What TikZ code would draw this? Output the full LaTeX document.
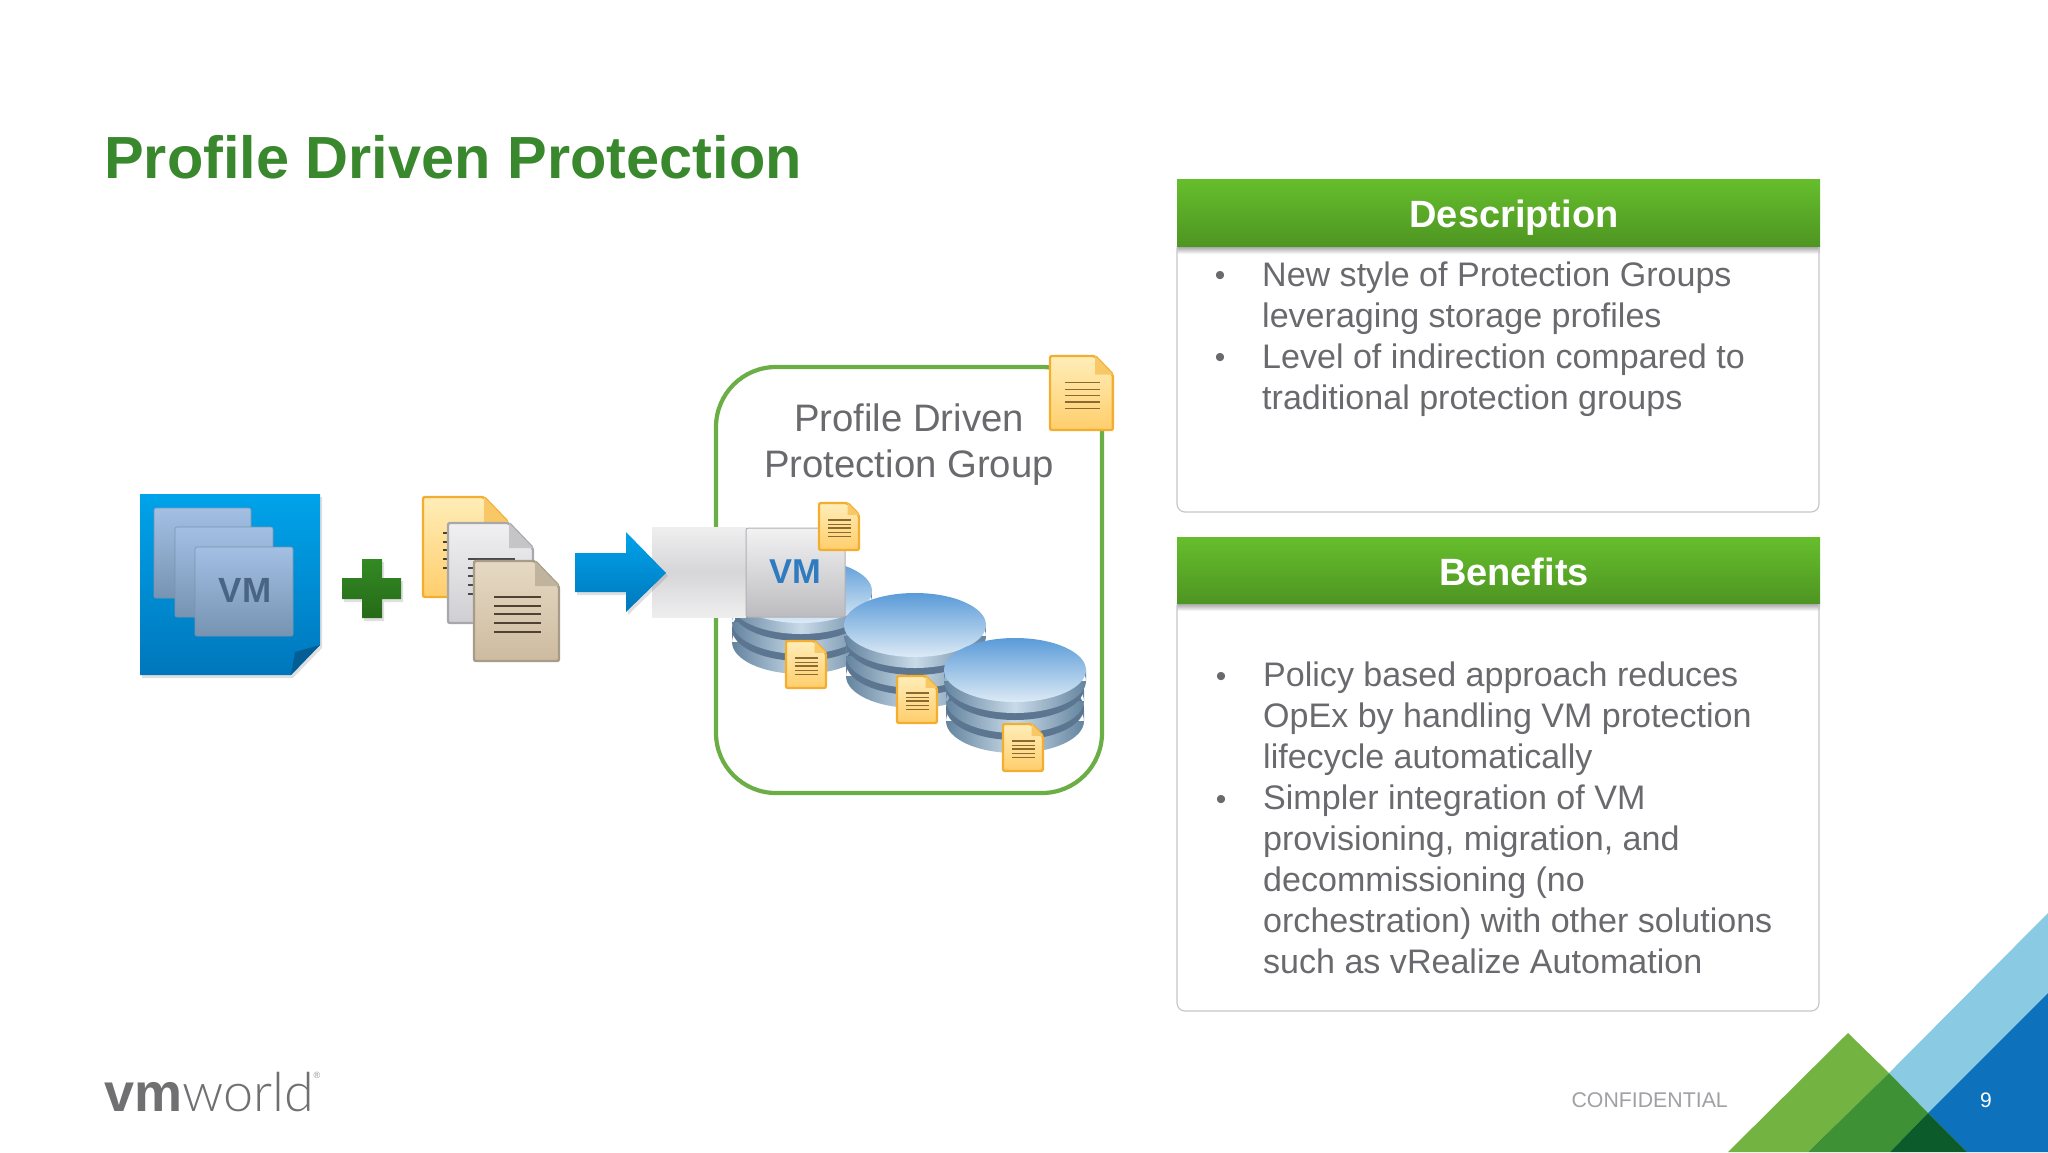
\documentclass[tikz,border=0pt]{standalone}
\usepackage{fontspec}
\setmainfont{Liberation Sans}
\newfontfamily\logolight{Lato Light}
\usetikzlibrary{shadows}

\definecolor{titlegreen}{HTML}{3A882D}
\definecolor{textgray}{HTML}{6A6A6E}
\definecolor{boxline}{HTML}{C6C6CC}
\definecolor{groupgreen}{HTML}{6BAE45}
\definecolor{headtop}{HTML}{66BE2C}
\definecolor{headbot}{HTML}{4E9522}
\definecolor{triLightGreen}{HTML}{72B341}
\definecolor{triMidGreen}{HTML}{3F9136}
\definecolor{triDarkGreen}{HTML}{0B5C2A}
\definecolor{triBlue}{HTML}{0D72BB}
\definecolor{triLightBlue}{HTML}{8ACBE3}
\definecolor{diskedge}{HTML}{64849F}
\definecolor{diskmid}{HTML}{C8DAE8}
\definecolor{diskgap}{HTML}{5C7590}
\definecolor{cardtop}{HTML}{A2C0E4}
\definecolor{cardbot}{HTML}{7793B2}
\definecolor{cardline}{HTML}{7C93AE}
\definecolor{facetop}{HTML}{5A9BD8}
\definecolor{facebot}{HTML}{DCEAF5}
\definecolor{noteTop}{HTML}{FFEDB8}
\definecolor{noteBot}{HTML}{FFCE6C}
\definecolor{noteEdge}{HTML}{F3AE2F}
\definecolor{noteLine}{HTML}{8A6A30}
\definecolor{noteDark}{HTML}{4A4030}
\definecolor{greyTop}{HTML}{F0F0F2}
\definecolor{greyBot}{HTML}{CFCFD3}
\definecolor{greyEdge}{HTML}{A8A8AC}
\definecolor{greyLine}{HTML}{4A4A4A}
\definecolor{tanTop}{HTML}{E6D9C3}
\definecolor{tanBot}{HTML}{CDBBA0}
\definecolor{tanEdge}{HTML}{A89B87}
\definecolor{tanLine}{HTML}{4F4232}
\definecolor{skyTop}{HTML}{00A3EA}
\definecolor{skyBot}{HTML}{0077BC}
\definecolor{foldblue}{HTML}{045E96}
\definecolor{vmdark}{HTML}{4A6485}
\definecolor{vmblue}{HTML}{2E7BBF}
\definecolor{plusTop}{HTML}{338A24}
\definecolor{plusBot}{HTML}{266A18}
\definecolor{bandTop}{HTML}{EFEFF0}
\definecolor{bandMid}{HTML}{D6D6D8}
\definecolor{bandBot}{HTML}{EEEEEF}
\definecolor{vmcardTop}{HTML}{F2F2F3}
\definecolor{vmcardBot}{HTML}{BCBCC0}
\definecolor{vmcardLine}{HTML}{B0B0B4}
\definecolor{logogray}{HTML}{707073}
\definecolor{reggray}{HTML}{909093}
\definecolor{confgray}{HTML}{A0A0A5}

\tikzset{
  bodytext/.style={anchor=base west, inner sep=0pt, text=textgray, font=\fontsize{34.05}{41}\selectfont},
  grouptext/.style={anchor=base, inner sep=0pt, text=textgray, font=\fontsize{38.3}{46}\selectfont},
  bullet/.style={anchor=base, inner sep=0pt, text=textgray, font=\fontsize{30}{36}\selectfont},
  headtext/.style={anchor=base, inner sep=0pt, text=white, font=\bfseries\fontsize{38}{46}\selectfont},
  headbar/.style={top color=headtop, bottom color=headbot},
  headshade/.style={top color=black!38, bottom color=white},
  softshadow/.style={drop shadow={shadow xshift=2pt, shadow yshift=-3pt, opacity=.25, fill=gray}},
  vmcard/.style={draw=cardline, line width=.6pt, rounded corners=2pt, top color=cardtop, bottom color=cardbot},
  pics/paperdoc/.style n args={4}{code={
    \draw[line width=2.4pt, rounded corners=2pt, draw=#3, top color=#1, bottom color=#2]
      (0,0) -- (61,0) -- (85,25) -- (85,100) -- (0,100) -- cycle;
    \fill[#3!60!#1] (61,0) -- (85,25) -- (61,25) -- cycle;
    \foreach \ly in {36,45,53,62,71}
      \draw[line width=1.3pt, draw=#4] (20,\ly) -- (67,\ly);
  }},
  pics/diskstack/.style={code={
    \foreach \o in {40,20}{
      \path[left color=diskedge, right color=diskedge, middle color=diskmid]
        (-69,\o) rectangle (69,\o+11) (0,\o+11) ellipse [x radius=69, y radius=32];
      \fill[diskgap] (0,\o-2) ellipse [x radius=69, y radius=32];
    }
    \path[left color=diskedge, right color=diskedge, middle color=diskmid]
      (-71,0) rectangle (71,11) (0,11) ellipse [x radius=71, y radius=32];
    \path[top color=facetop, bottom color=facebot] (0,0) ellipse [x radius=71, y radius=32];
  }}
}

\begin{document}
\begin{tikzpicture}[x=1pt, y=-1pt]
\useasboundingbox (0,0) rectangle (2048,1152);

\node[anchor=base west, inner sep=0pt, text=titlegreen, font=\bfseries\fontsize{59.5}{70}\selectfont] (title) at (104,178) {Profile Driven Protection};

% description panel
\path[headshade] (1177,246) rectangle (1820,254);
\draw[boxline, line width=1.2pt, rounded corners=8pt] (1177,240) rectangle (1819,512);
\path[headbar] (1177,179) rectangle (1820,246);
\node[headtext] (deschead) at (1514,227) {Description};

\node[bullet] (db1) at (1220,285) {•};
\node[bodytext] (d1) at (1262,286) {New style of Protection Groups};
\node[bodytext] (d2) at (1262,327) {leveraging storage profiles};
\node[bullet] (db2) at (1220,367) {•};
\node[bodytext] (d3) at (1262,368) {Level of indirection compared to};
\node[bodytext] (d4) at (1262,409) {traditional protection groups};

% benefits panel
\path[headshade] (1177,603) rectangle (1820,611);
\draw[boxline, line width=1.2pt, rounded corners=8pt] (1177,597) rectangle (1819,1011);
\path[headbar] (1177,537) rectangle (1820,603);
\node[headtext] (benhead) at (1514,585) {Benefits};

\node[bullet] (bb1) at (1221,686) {•};
\node[bodytext] (b1) at (1263,686) {Policy based approach reduces};
\node[bodytext] (b2) at (1263,727) {OpEx by handling VM protection};
\node[bodytext] (b3) at (1263,768) {lifecycle automatically};
\node[bullet] (bb2) at (1221,809) {•};
\node[bodytext] (b4) at (1263,809) {Simpler integration of VM};
\node[bodytext] (b5) at (1263,850) {provisioning, migration, and};
\node[bodytext] (b6) at (1263,891) {decommissioning (no};
\node[bodytext] (b7) at (1263,932) {orchestration) with other solutions};
\node[bodytext] (b8) at (1263,973) {such as vRealize Automation};

% vm folder
\path[softshadow, top color=skyTop, bottom color=skyBot]
  (140,494) -- (320,494) -- (320,645) -- (291,675) -- (140,675) -- cycle;
\fill[foldblue] (320,645) -- (295,652) -- (291,675) -- cycle;
\path[vmcard] (154,508) rectangle (251,598);
\path[vmcard] (175,527) rectangle (273,617);
\path[vmcard] (195,547) rectangle (293,636);
\node[inner sep=0pt, text=vmdark, font=\bfseries\fontsize{35}{40}\selectfont] (vmleft) at (245,590) {VM};

% plus
\path[softshadow, top color=plusTop, bottom color=plusBot]
  (362,559) -- (382,559) -- (382,578) -- (401,578) -- (401,599) -- (382,599) -- (382,618) -- (362,618) -- (362,599) -- (342,599) -- (342,578) -- (362,578) -- cycle;

% profile documents
\pic at (423,497) {paperdoc={noteTop}{noteBot}{noteEdge}{noteDark}};
\pic at (448,523) {paperdoc={greyTop}{greyBot}{greyEdge}{greyLine}};
\pic at (474,561) {paperdoc={tanTop}{tanBot}{tanEdge}{tanLine}};

% group box
\draw[groupgreen, line width=4.2pt, rounded corners=60pt] (716,367) rectangle (1102,793);
\node[grouptext] (grp1) at (909,431) {Profile Driven};
\node[grouptext] (grp2) at (909,477) {Protection Group};

\pic at (801,591) {diskstack};
\pic at (915,625) {diskstack};
\pic at (1015,670) {diskstack};

% band, arrow and vm card
\path[top color=bandTop, bottom color=bandBot, middle color=bandMid] (652,527) rectangle (746,617);
\path[softshadow, top color=skyTop, bottom color=skyBot]
  (575,553) -- (626,553) -- (626,532) -- (666,573) -- (626,612) -- (626,592) -- (575,592) -- cycle;
\draw[vmcardLine, line width=1pt, rounded corners=2pt, top color=vmcardTop, bottom color=vmcardBot] (746,528) rectangle (845,617);
\node[inner sep=0pt, text=vmblue, font=\bfseries\fontsize{34.5}{40}\selectfont] (vmcenter) at (795,572) {VM};

\pic[scale=.74] at (1050,356) {paperdoc={noteTop}{noteBot}{noteEdge}{noteLine}};
\pic[scale=.47] at (819,503) {paperdoc={noteTop}{noteBot}{noteEdge}{noteLine}};
\pic[scale=.47] at (786,641) {paperdoc={noteTop}{noteBot}{noteEdge}{noteLine}};
\pic[scale=.47] at (897,676) {paperdoc={noteTop}{noteBot}{noteEdge}{noteLine}};
\pic[scale=.47] at (1003,724) {paperdoc={noteTop}{noteBot}{noteEdge}{noteLine}};

% footer
\node[anchor=base west, inner sep=0pt, text=logogray, font=\fontsize{54}{60}\selectfont] (logo) at (104,1111) {\textbf{vm}{\logolight world}};
\node[inner sep=0pt, text=reggray, font=\fontsize{9}{10}\selectfont] (logoreg) at (317,1075) {®};
\node[anchor=base east, inner sep=0pt, text=confgray, font=\fontsize{21.3}{26}\selectfont] (conf) at (1728,1107) {CONFIDENTIAL};

\fill[triLightBlue] (1889,1073) -- (2048,913) -- (2048,993) -- (1928,1113) -- cycle;
\fill[triBlue] (1928,1113) -- (2048,993) -- (2048,1152) -- (1967,1152) -- cycle;
\fill[triLightGreen] (1848,1033) -- (1889,1073) -- (1808,1152) -- (1728,1152) -- cycle;
\fill[triMidGreen] (1889,1073) -- (1928,1113) -- (1890,1152) -- (1808,1152) -- cycle;
\fill[triDarkGreen] (1928,1113) -- (1967,1152) -- (1890,1152) -- cycle;
\node[inner sep=0pt, anchor=base, text=white, font=\fontsize{21}{26}\selectfont] (pagenum) at (1986,1107) {9};
\end{tikzpicture}
\end{document}
